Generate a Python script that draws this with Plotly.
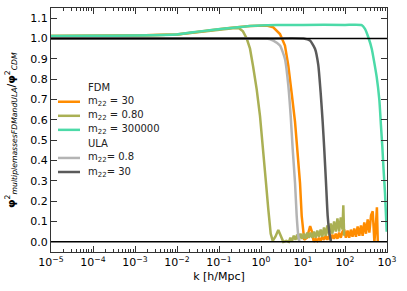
import plotly.graph_objects as go

# ---------------- data ----------------
k_fdm30 = [1e-5, 1e-4, 1e-3, 0.01, 0.0353, 0.155, 0.547,
           1.37, 1.96, 2.83, 3.72, 4.47, 5.38, 6.46, 7.31, 8.49, 9.31, 10.2, 10.7,
           12.4, 13.8, 14.8, 16.3, 18.0,
           20.0, 21.9, 24.0, 26.3, 28.8, 31.6, 34.7, 38.0, 41.7, 45.7, 50.1, 55.0,
           60.3, 66.1, 72.4, 79.4, 87.1,
           95.5, 105, 115, 126, 138, 151, 166, 182, 200, 219, 240, 263, 288, 316,
           347, 380, 417, 457, 501, 550, 575, 603]
v_fdm30 = [1.012, 1.013, 1.015, 1.02, 1.035, 1.05, 1.062,
           1.064, 1.055, 1.022, 0.965, 0.866, 0.73, 0.59, 0.455, 0.29, 0.127, 0.03, 0.01,
           0.02, 0.06, 0.077, 0.05, 0.0,
           0.015, 0.005, 0.02, 0.005, 0.025, 0.01, 0.03, 0.01, 0.03, 0.01, 0.035, 0.015,
           0.04, 0.015, 0.045, 0.02, 0.05,
           0.06, 0.02, 0.055, 0.02, 0.06, 0.025, 0.065, 0.025, 0.075, 0.03, 0.08, 0.03,
           0.095, 0.04, 0.11, 0.045, 0.13, 0.15, 0.0, 0.1, 0.17, 0.0]

k_fdm080 = [1e-5, 1e-4, 1e-3, 0.01, 0.0353, 0.1, 0.215, 0.30, 0.372, 0.457,
            0.547, 0.646, 0.79, 0.946, 1.135, 1.315, 1.493, 1.702, 1.901, 2.2,
            2.582, 3.0, 3.396, 4.0, 4.6,
            5.01, 5.50, 6.03, 6.61, 7.24, 7.94, 8.71, 9.55, 10.5, 11.5,
            12.6, 13.8, 15.1, 16.6, 18.2, 20.0, 21.9, 24.0, 26.3, 28.8,
            31.6, 34.7, 38.0, 41.7, 45.7, 50.1, 55.0, 60.3, 66.1, 72.4,
            79.4, 87.1, 91.2, 95.5]
v_fdm080 = [1.012, 1.013, 1.015, 1.02, 1.033, 1.045, 1.05, 1.05, 1.035, 1.0,
            0.95, 0.865, 0.75, 0.62, 0.455, 0.29, 0.16, 0.04, 0.005, 0.025,
            0.058, 0.03, 0.0, 0.005, 0.0,
            0.02, 0.005, 0.03, 0.01, 0.035, 0.01, 0.04, 0.015, 0.04, 0.015,
            0.045, 0.02, 0.045, 0.02, 0.05, 0.02, 0.055, 0.025, 0.06, 0.025,
            0.07, 0.03, 0.08, 0.035, 0.09, 0.04, 0.1, 0.05, 0.115, 0.05,
            0.12, 0.06, 0.18, 0.03]

k_fdm3e5 = [1e-5, 1e-4, 1e-3, 0.01, 0.0353, 0.155, 0.547, 2.4, 10, 100, 250,
            299, 359, 433, 490, 569, 656, 719, 773, 826, 896, 984]
v_fdm3e5 = [1.012, 1.013, 1.015, 1.02, 1.035, 1.05, 1.062, 1.066, 1.067, 1.067, 1.066,
            1.047, 1.006, 0.95, 0.89, 0.81, 0.7, 0.57, 0.47, 0.36, 0.24, 0.05]

k_ula08 = [1e-5, 0.1, 1.37, 1.96, 2.83, 3.72, 4.47, 5.09, 5.69, 6.46, 7.08, 7.73, 8.26]
v_ula08 = [1.0, 1.0, 1.0, 0.99, 0.965, 0.9, 0.77, 0.62, 0.455, 0.29, 0.127, 0.03, 0.0]

k_ula30 = [1e-5, 1.0, 10.2, 14.7, 19.3, 23.1, 26.4, 29.4, 32.1, 35.3, 38.7, 42.3, 46.4]
v_ula30 = [1.0, 1.0, 1.0, 0.99, 0.95, 0.87, 0.73, 0.59, 0.455, 0.29, 0.127, 0.047, 0.0]

x_tick_vals = [1e-5, 1e-4, 1e-3, 1e-2, 1e-1, 1e0, 1e1, 1e2, 1e3]
x_tick_text = ["10<sup>−5</sup>", "10<sup>−4</sup>", "10<sup>−3</sup>", "10<sup>−2</sup>",
               "10<sup>−1</sup>", "10<sup>0</sup>", "10<sup>1</sup>", "10<sup>2</sup>",
               "10<sup>3</sup>"]
y_tick_vals = [0.0, 0.1, 0.2, 0.3, 0.4, 0.5, 0.6, 0.7, 0.8, 0.9, 1.0, 1.1]

# legend entries (label, colour; None = group heading)
legend_labels = ["FDM", "m<sub>22</sub> = 30", "m<sub>22</sub> = 0.80", "m<sub>22</sub> = 300000",
                 "ULA", "m<sub>22</sub>= 0.8", "m<sub>22</sub>= 30"]
legend_colors = [None, "#ff8c00", "#aab054", "#4cdaa8", None, "#b4b4b4", "#5a5a5a"]

minor_vals = [m * 10.0 ** e for e in range(-5, 3) for m in range(2, 10)]

FONT = "DejaVu Sans"
AX = "#333333"
W, H = 407, 291
ML, MR, MT, MB = 51, 20, 8, 39
PW, PH = W - ML - MR, H - MT - MB

def px_x(p):
    return (p - ML) / PW

def px_y(p):
    return (H - MB - p) / PH

fig = go.Figure()

fig.add_trace(go.Scatter(x=k_fdm30, y=v_fdm30, mode="lines", name="m22 = 30",
                         line=dict(color=legend_colors[1], width=2.5)))
fig.add_trace(go.Scatter(x=k_fdm080, y=v_fdm080, mode="lines", name="m22 = 0.80",
                         line=dict(color=legend_colors[2], width=2.5)))
fig.add_trace(go.Scatter(x=k_fdm3e5, y=v_fdm3e5, mode="lines", name="m22 = 300000",
                         line=dict(color=legend_colors[3], width=2.5, shape="spline", smoothing=0.5)))
fig.add_trace(go.Scatter(x=k_ula08, y=v_ula08, mode="lines", name="m22= 0.8",
                         line=dict(color=legend_colors[5], width=2.5, shape="spline", smoothing=0.5)))
fig.add_trace(go.Scatter(x=k_ula30, y=v_ula30, mode="lines", name="m22= 30",
                         line=dict(color=legend_colors[6], width=2.5, shape="spline", smoothing=0.5)))

for yv in (1.0, 0.0):
    fig.add_shape(type="line", xref="paper", x0=0, x1=1, yref="y", y0=yv, y1=yv,
                  line=dict(color="black", width=1.5), layer="above")

# manual legend
row0, step = 87.7, 14.05
for i, (lab, col) in enumerate(zip(legend_labels, legend_colors)):
    yy = px_y(row0 + i * step)
    if col is not None:
        fig.add_shape(type="line", xref="paper", yref="paper",
                      x0=px_x(58), x1=px_x(80), y0=yy, y1=yy,
                      line=dict(color=col, width=2.5))
    fig.add_annotation(xref="paper", yref="paper", x=px_x(86), y=yy, xanchor="left",
                       yanchor="middle", showarrow=False, text=lab,
                       font=dict(family=FONT, size=10, color="#222222"))

fig.update_xaxes(type="log", range=[-5, 3], showgrid=False, zeroline=False,
                 showline=True, linecolor=AX, linewidth=1, mirror="allticks",
                 ticks="inside", ticklen=6, tickcolor=AX, tickwidth=1,
                 tickmode="array", tickvals=x_tick_vals, ticktext=x_tick_text,
                 tickfont=dict(family=FONT, size=11, color="black"),
                 minor=dict(ticks="inside", ticklen=3, tickcolor=AX, tickwidth=1,
                            tickmode="array", tickvals=minor_vals, showgrid=False),
                 title=dict(text="k [h/Mpc]", font=dict(family=FONT, size=11, color="black"),
                            standoff=4))
fig.update_yaxes(range=[-0.05, 1.15], showgrid=False, zeroline=False,
                 showline=True, linecolor=AX, linewidth=1, mirror="allticks",
                 ticks="inside", ticklen=6, tickcolor=AX, tickwidth=1,
                 tickmode="array", tickvals=y_tick_vals, tickformat=".1f",
                 tickfont=dict(family=FONT, size=11, color="black"))

fig.add_annotation(xref="paper", yref="paper", x=px_x(11), y=0.5, xanchor="center",
                   yanchor="middle", textangle=-90, showarrow=False,
                   text="<b>φ</b><sup>2</sup><sub><i>multiplemassesFDMandULA</i></sub>/<b>φ</b><sup>2</sup><sub><i>CDM</i></sub>",
                   font=dict(family=FONT, size=11, color="black"))

fig.update_layout(width=W, height=H, margin=dict(l=ML, r=MR, t=MT, b=MB),
                  paper_bgcolor="white", plot_bgcolor="white",
                  font=dict(family=FONT, size=10, color="black"),
                  showlegend=False)

fig.write_html("out.html", config={"displayModeBar": False},
               post_script="document.body.style.margin='0';document.body.style.overflow='hidden';")
